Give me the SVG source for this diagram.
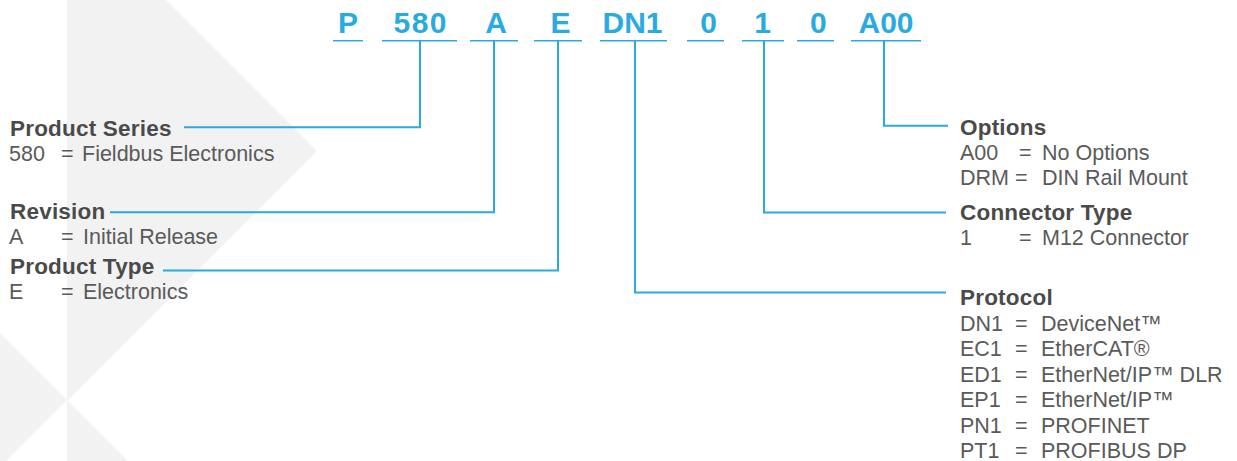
<svg xmlns="http://www.w3.org/2000/svg" width="1237" height="461" viewBox="0 0 1237 461">
<style>
.bg{fill:#f2f2f2}
.code{font-family:"Liberation Sans",Arial,sans-serif;font-weight:bold;font-size:30px;fill:#29abe2;text-anchor:middle}
.ul{stroke:#29abe2;stroke-width:1.5;fill:none}
.conn{stroke:#29abe2;stroke-width:2;fill:none}
.h{font-family:"Liberation Sans",Arial,sans-serif;font-weight:bold;font-size:22.5px;letter-spacing:0.2px;fill:#4a4a4a}
.t{font-family:"Liberation Sans",Arial,sans-serif;font-size:21.5px;fill:#5a5a5a}
</style>
<rect width="1237" height="461" fill="#ffffff"/>
<g id="background">
<polygon class="bg" points="67,0 166,0 317,151 67,401"/>
<polygon class="bg" points="67,400 128,461 67,461"/>
<polygon class="bg" points="0,333 67,400 0,467"/>
</g>
<g id="code">
<text class="code" x="348" y="33">P</text>
<text class="code" x="420" y="33" textLength="53" lengthAdjust="spacing">580</text>
<text class="code" x="496" y="33">A</text>
<text class="code" x="560.5" y="33">E</text>
<text class="code" x="632.5" y="33">DN1</text>
<text class="code" x="708.7" y="33">0</text>
<text class="code" x="762.5" y="33">1</text>
<text class="code" x="818.3" y="33">0</text>
<text class="code" x="886" y="33">A00</text>
<line class="ul" x1="333" y1="40.7" x2="363" y2="40.7"/>
<line class="ul" x1="382" y1="40.7" x2="457" y2="40.7"/>
<line class="ul" x1="470" y1="40.7" x2="518" y2="40.7"/>
<line class="ul" x1="534" y1="40.7" x2="582" y2="40.7"/>
<line class="ul" x1="600" y1="40.7" x2="667" y2="40.7"/>
<line class="ul" x1="687" y1="40.7" x2="724" y2="40.7"/>
<line class="ul" x1="742" y1="40.7" x2="784" y2="40.7"/>
<line class="ul" x1="797" y1="40.7" x2="834" y2="40.7"/>
<line class="ul" x1="851" y1="40.7" x2="921" y2="40.7"/>
</g>
<g id="connectors">
<path class="conn" d="M420,41 V127.3 H184"/>
<path class="conn" d="M494,41 V212.3 H110"/>
<path class="conn" d="M558,41 V270.5 H163"/>
<path class="conn" d="M635,41 V292.5 H946"/>
<path class="conn" d="M764,41 V212.5 H946"/>
<path class="conn" d="M884,41 V125.7 H948"/>
</g>
<g id="product-series">
<text class="h" x="10" y="136">Product Series</text>
<text class="t" x="9" y="161">580</text><text class="t" x="61" y="161">=</text><text class="t" x="82" y="161">Fieldbus Electronics</text>
</g>
<g id="revision">
<text class="h" x="10" y="218.5">Revision</text>
<text class="t" x="9" y="243.5">A</text><text class="t" x="61" y="243.5">=</text><text class="t" x="83" y="243.5">Initial Release</text>
</g>
<g id="product-type">
<text class="h" x="10" y="274">Product Type</text>
<text class="t" x="9" y="299">E</text><text class="t" x="61" y="299">=</text><text class="t" x="83" y="299">Electronics</text>
</g>
<g id="options">
<text class="h" x="960" y="135">Options</text>
<text class="t" x="960" y="160">A00</text><text class="t" x="1019" y="160">=</text><text class="t" x="1042" y="160">No Options</text>
<text class="t" x="960" y="185">DRM</text><text class="t" x="1015" y="185">=</text><text class="t" x="1042" y="185">DIN Rail Mount</text>
</g>
<g id="connector-type">
<text class="h" x="960" y="219.5">Connector Type</text>
<text class="t" x="960" y="245">1</text><text class="t" x="1019" y="245">=</text><text class="t" x="1042" y="245">M12 Connector</text>
</g>
<g id="protocol">
<text class="h" x="960" y="305">Protocol</text>
<text class="t" x="960" y="330.5">DN1</text><text class="t" x="1015" y="330.5">=</text><text class="t" x="1041" y="330.5">DeviceNet™</text>
<text class="t" x="960" y="356">EC1</text><text class="t" x="1015" y="356">=</text><text class="t" x="1041" y="356">EtherCAT®</text>
<text class="t" x="960" y="381.5">ED1</text><text class="t" x="1015" y="381.5">=</text><text class="t" x="1041" y="381.5">EtherNet/IP™ DLR</text>
<text class="t" x="960" y="407">EP1</text><text class="t" x="1015" y="407">=</text><text class="t" x="1041" y="407">EtherNet/IP™</text>
<text class="t" x="960" y="432.5">PN1</text><text class="t" x="1015" y="432.5">=</text><text class="t" x="1041" y="432.5">PROFINET</text>
<text class="t" x="960" y="458">PT1</text><text class="t" x="1015" y="458">=</text><text class="t" x="1041" y="458">PROFIBUS DP</text>
</g>
</svg>
